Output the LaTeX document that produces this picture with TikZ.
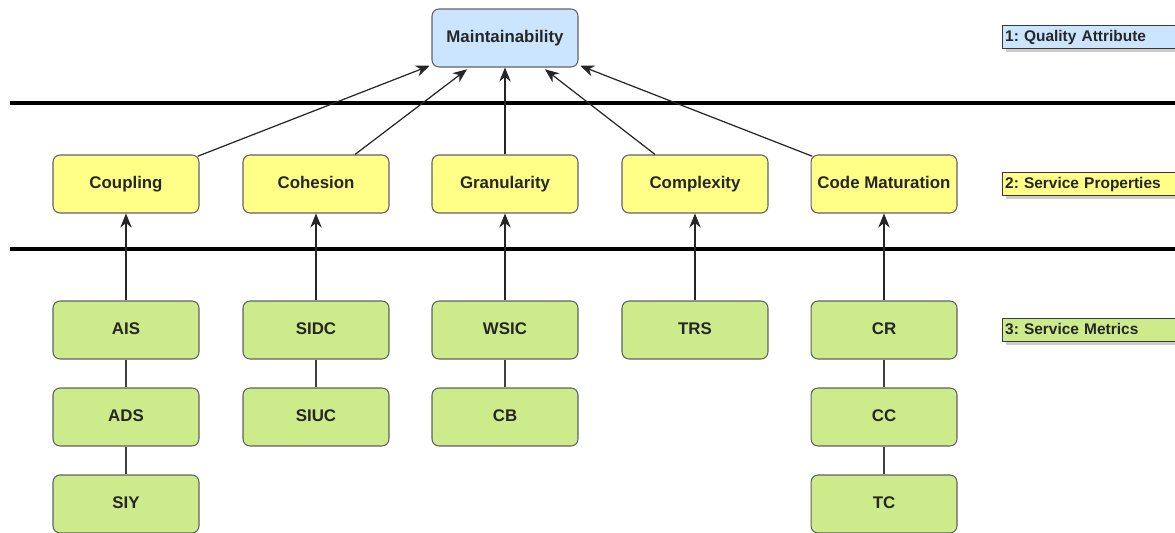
\documentclass[tikz,border=0pt]{standalone}
\usepackage{fontspec}
\setsansfont{Liberation Sans}
\usetikzlibrary{arrows.meta,shadows}
\definecolor{attrblue}{HTML}{CCE5FF}
\definecolor{propyellow}{HTML}{FFFF88}
\definecolor{metricgreen}{HTML}{CDEB8B}
\definecolor{boxline}{HTML}{36393D}
\tikzset{
  box/.style={draw=boxline!80, rounded corners=4pt, minimum width=2.92cm, minimum height=1.16cm,
    line width=0.6pt, font=\sffamily\bfseries\fontsize{9.6}{11}\selectfont, text=black!85,
    text height=1.6ex, text depth=0.45ex},
  attr/.style={box, fill=attrblue},
  prop/.style={box, fill=propyellow},
  metric/.style={box, fill=metricgreen},
  legend/.style={draw=boxline, fill=#1, anchor=west, text width=3.6cm, minimum height=0.46cm,
    inner xsep=1.5pt, inner ysep=0pt, align=left, line width=0.6pt, text=black!85,
    text height=1.6ex, text depth=0.45ex,
    font=\sffamily\bfseries\fontsize{8.8}{10}\selectfont,
    drop shadow={shadow xshift=2pt, shadow yshift=-2pt, fill=black!40}},
  uparrow/.style={-{Stealth[length=8pt,width=6.5pt]}, line width=0.7pt, draw=black!85},
  link/.style={line width=0.7pt, draw=black!75},
  layer/.style={line width=2.3pt}
}
\frenchspacing
\begin{document}
\begin{tikzpicture}[x=0.02cm,y=-0.02cm]
  \useasboundingbox (0,0) rectangle (1175,533);
  % layer separators
  \coordinate (sepAw) at (10,103);
  \coordinate (sepAe) at (1175,103);
  \coordinate (sepBw) at (10,249);
  \coordinate (sepBe) at (1175,249);
  \draw[layer] (sepAw) -- (sepAe);
  \draw[layer] (sepBw) -- (sepBe);
  % level 1
  \node[attr] (maint) at (505,38) {Maintainability};
  % level 2
  \node[prop] (coupling) at (126,184) {Coupling};
  \node[prop] (cohesion) at (316,184) {Cohesion};
  \node[prop] (granul) at (505,184) {Granularity};
  \node[prop] (complex) at (695,184) {Complexity};
  \node[prop] (codemat) at (884,184) {Code Maturation};
  % level 3
  \node[metric] (ais) at (126,330) {AIS};
  \node[metric] (ads) at (126,417) {ADS};
  \node[metric] (siy) at (126,504) {SIY};
  \node[metric] (sidc) at (316,330) {SIDC};
  \node[metric] (siuc) at (316,417) {SIUC};
  \node[metric] (wsic) at (505,330) {WSIC};
  \node[metric] (cb) at (505,417) {CB};
  \node[metric] (trs) at (695,330) {TRS};
  \node[metric] (cr) at (884,330) {CR};
  \node[metric] (cc) at (884,417) {CC};
  \node[metric] (tc) at (884,504) {TC};
  % legend
  \node[legend=attrblue] (lgattr) at (1002,37) {1: Quality Attribute};
  \node[legend=propyellow] (lgprop) at (1002,184) {2: Service Properties};
  \node[legend=metricgreen] (lgmetric) at (1002,330) {3: Service Metrics};
  % properties -> attribute
  \draw[uparrow] ([xshift=-1pt,yshift=-1pt]coupling.north east) -- ([xshift=-1pt,yshift=1pt]maint.south west);
  \draw[uparrow] ([xshift=0.78cm]cohesion.north) -- ([xshift=-0.76cm,yshift=-1pt]maint.south);
  \draw[uparrow] (granul) -- (maint);
  \draw[uparrow] ([xshift=-0.8cm]complex.north) -- ([xshift=0.8cm,yshift=-1pt]maint.south);
  \draw[uparrow] ([xshift=1pt,yshift=-1pt]codemat.north west) -- ([xshift=1pt,yshift=1pt]maint.south east);
  % metrics -> properties
  \draw[uparrow] (ais) -- (coupling);
  \draw[uparrow] (sidc) -- (cohesion);
  \draw[uparrow] (wsic) -- (granul);
  \draw[uparrow] (trs) -- (complex);
  \draw[uparrow] (cr) -- (codemat);
  % metric chains
  \draw[link] (ais) -- (ads);
  \draw[link] (ads) -- (siy);
  \draw[link] (sidc) -- (siuc);
  \draw[link] (wsic) -- (cb);
  \draw[link] (cr) -- (cc);
  \draw[link] (cc) -- (tc);
\end{tikzpicture}
\end{document}
